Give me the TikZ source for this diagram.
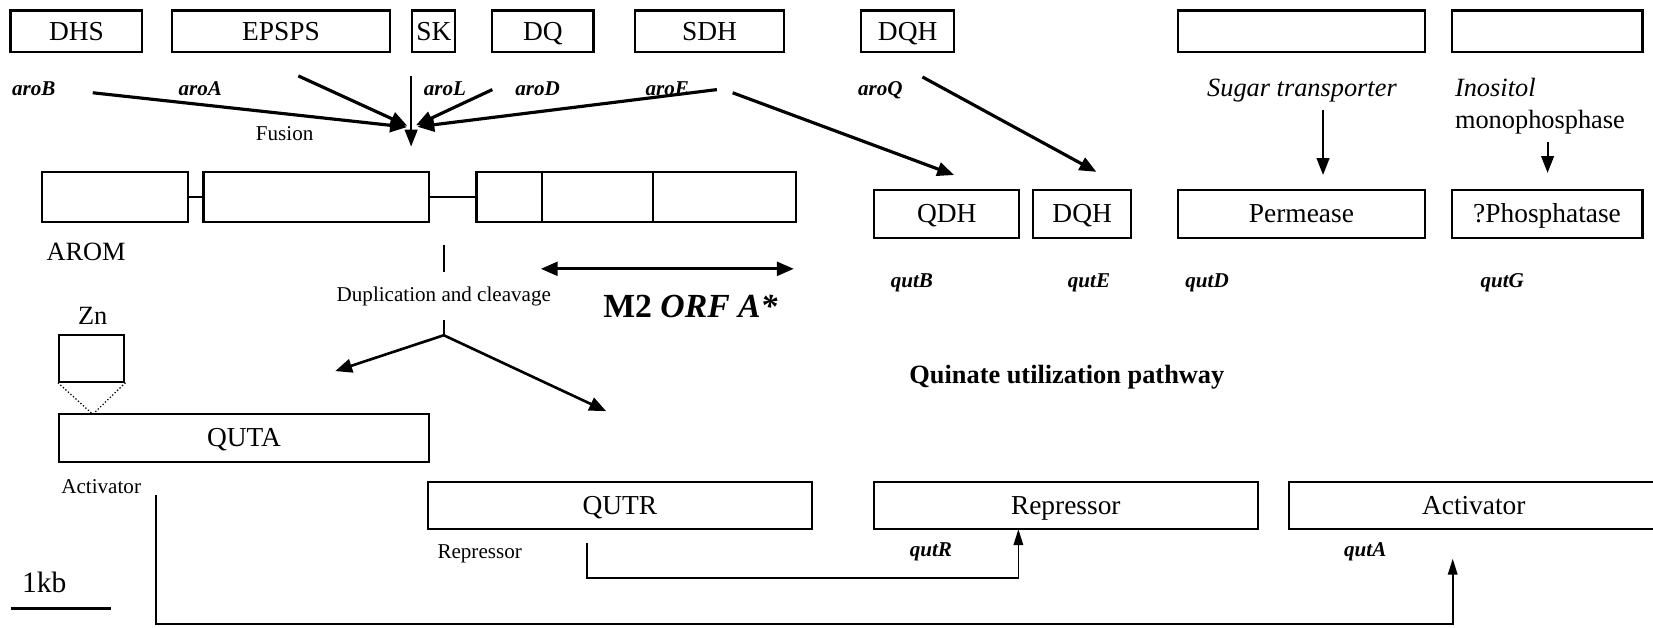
\documentclass[tikz,border=0pt]{standalone}
\usepackage{fontspec}
\setmainfont{Liberation Serif}
\usetikzlibrary{arrows.meta}

\begin{document}
\begin{tikzpicture}[
  x=1pt,y=-1pt,
  gene/.style={draw,line width=2pt,inner sep=0pt,minimum height=39pt,text height=17pt,text depth=0pt,font=\fontsize{26}{28}\selectfont},
  lbl/.style={inner sep=0pt,text height=14pt,text depth=4pt,font=\fontsize{20}{22}\selectfont\bfseries\itshape},
  note/.style={inner sep=0pt,text height=14pt,text depth=4pt,font=\fontsize{20}{22}\selectfont},
  big/.style={inner sep=0pt,text height=17.5pt,text depth=5pt,font=\fontsize{25}{28}\selectfont},
  flow/.style={-{Triangle[length=16pt,width=13pt]},line width=3pt},
  feed/.style={-{Triangle[length=16pt,width=12pt]},line width=2pt},
  link/.style={-{Triangle[length=15pt,width=9pt]},line width=1.6pt}
]
  \fill[white] (0,0) rectangle (1568,595);
  \useasboundingbox (0,0) rectangle (1568,595);

  % separate enzymes (top row)
  \node[gene,minimum width=125pt] (dhs) at (72.5,29.5) {DHS};
  \node[gene,minimum width=207pt] (epsps) at (266.5,29.5) {EPSPS};
  \node[gene,minimum width=41pt] (sk) at (411.5,29.5) {SK};
  \node[gene,minimum width=96pt] (dq) at (515,29.5) {DQ};
  \node[gene,minimum width=142pt] (sdh) at (673,29.5) {SDH};
  \node[gene,minimum width=88pt] (dqhtop) at (861,29.5) {DQH};
  \node[gene,minimum width=235pt] (sugbox) at (1234.5,29.5) {};
  \node[gene,minimum width=181pt] (inobox) at (1467.5,29.5) {};

  \node[lbl] (aroB) at (32,86) {aroB};
  \node[lbl] (aroA) at (190,86) {aroA};
  \node[lbl] (aroL) at (422,86) {aroL};
  \node[lbl] (aroD) at (510,86) {aroD};
  \node[lbl] (aroE) at (633,86) {aroE};
  \node[lbl] (aroQ) at (835,86) {aroQ};
  \node[big,font=\fontsize{25}{28}\selectfont\itshape] (sugtxt) at (1235,85) {Sugar transporter};
  \node[big,font=\fontsize{25}{28}\selectfont\itshape,anchor=west] (inotxt) at (1380,85) {Inositol};
  \node[big,anchor=west] (monotxt) at (1380,116) {monophosphase};
  \node[note] (fusion) at (270,128) {Fusion};

  % fusion into AROM
  \coordinate (fuse) at (390,121);
  \coordinate (fromB) at (88,88);
  \coordinate (fromA) at (283,72);
  \coordinate (fromL) at (467,85);
  \coordinate (fromE) at (680,85);
  \coordinate (skout) at (390,72);
  \coordinate (fusedown) at (390,139);
  \draw[flow,shorten >=4pt] (fromB) -- (fuse);
  \draw[flow,shorten >=4pt] (fromA) -- (fuse);
  \draw[flow,shorten >=5pt] (fromL) -- (fuse);
  \draw[flow,shorten >=6pt] (fromE) -- (fuse);
  \draw[feed] (skout) -- (fusedown);

  % AROM pentafunctional polypeptide
  \node[gene,minimum width=138pt,minimum height=48pt] (arom1) at (109,187) {};
  \node[gene,minimum width=214pt,minimum height=48pt] (arom2) at (300,187) {};
  \node[gene,minimum width=62pt,minimum height=48pt] (arom3a) at (483,187) {};
  \node[gene,minimum width=105pt,minimum height=48pt] (arom3b) at (566.5,187) {};
  \node[gene,minimum width=136pt,minimum height=48pt] (arom3c) at (687,187) {};
  \draw[line width=2pt] (arom1) -- (arom2);
  \draw[line width=2pt] (arom2) -- (arom3a);
  \node[big,anchor=west] (arom) at (44,241) {AROM};

  % quinate enzymes
  \node[gene,minimum width=138pt,minimum height=46pt] (qdh) at (898,203) {QDH};
  \node[gene,minimum width=93pt,minimum height=46pt] (dqh) at (1026.5,203) {DQH};
  \node[gene,minimum width=235pt,minimum height=46pt] (permease) at (1234.5,203) {Permease};
  \node[gene,minimum width=181pt,minimum height=46pt] (phos) at (1467.5,203) {?Phosphatase};
  \node[lbl] (qutB) at (865,268) {qutB};
  \node[lbl] (qutE) at (1033,268) {qutE};
  \node[lbl] (qutD) at (1145,268) {qutD};
  \node[lbl] (qutG) at (1425,268) {qutG};

  \coordinate (sdhout) at (695,88);
  \coordinate (qdhin) at (905,166);
  \coordinate (aroqout) at (875,73);
  \coordinate (dqhin) at (1040,163);
  \coordinate (sugout) at (1255,104);
  \coordinate (permin) at (1255,166);
  \coordinate (monoout) at (1468,135);
  \coordinate (phosin) at (1468,164);
  \draw[flow] (sdhout) -- (qdhin);
  \draw[flow] (aroqout) -- (dqhin);
  \draw[feed] (sugout) -- (permin);
  \draw[feed] (monoout) -- (phosin);

  % duplication and cleavage
  \coordinate (dupA) at (421,232);
  \coordinate (dupB) at (421,258);
  \coordinate (dupC) at (421,304);
  \coordinate (split) at (421,318);
  \coordinate (toquta) at (318,352);
  \coordinate (toqutr) at (575,390);
  \draw[line width=2pt] (dupA) -- (dupB);
  \draw[line width=2pt] (dupC) -- (split);
  \node[note] (dup) at (421,281) {Duplication and cleavage};
  \draw[flow,line width=2.5pt] (split) -- (toquta);
  \draw[flow,line width=2.5pt] (split) -- (toqutr);

  \coordinate (orfL) at (513,255);
  \coordinate (orfR) at (753,255);
  \draw[{Triangle[length=16pt,width=13pt]}-{Triangle[length=16pt,width=13pt]},line width=3pt] (orfL) -- (orfR);
  \node[inner sep=0pt,font=\fontsize{32}{36}\selectfont\bfseries] (orf) at (655,291) {M2 \textit{ORF A*}};

  % regulatory proteins
  \node[big] (zntxt) at (88,302) {Zn};
  \node[gene,minimum width=62pt,minimum height=44pt] (zn) at (87,340) {};
  \node[gene,minimum width=351pt,minimum height=45pt] (quta) at (231.5,415.5) {QUTA};
  \coordinate (zntip) at (88,393);
  \draw[dotted,line width=1.2pt] (zn.south west) -- (zntip) -- (zn.south east);
  \node[note] (qutaact) at (96,463) {Activator};
  \node[inner sep=0pt,font=\fontsize{25}{28}\selectfont\bfseries] (pathway) at (1012,358) {Quinate utilization pathway};

  \node[gene,minimum width=364pt,minimum height=45pt] (qutr) at (588,479.5) {QUTR};
  \node[gene,minimum width=364pt,minimum height=45pt] (repbox) at (1011,479.5) {Repressor};
  \node[gene,minimum width=350pt,minimum height=45pt] (actbox) at (1398,479.5) {Activator};
  \node[note] (qutrrep) at (455,525) {Repressor};
  \node[lbl] (qutR) at (883,523) {qutR};
  \node[lbl] (qutA) at (1295,523) {qutA};

  \coordinate (qutrout) at (557,515);
  \coordinate (rbend) at (966,548);
  \coordinate (qutrin) at (966,502);
  \draw[link] (qutrout) |- (rbend) -- (qutrin);
  \coordinate (actout) at (148,470);
  \coordinate (abend) at (1378,592);
  \coordinate (actin) at (1378,530);
  \draw[link] (actout) |- (abend) -- (actin);

  % scale bar
  \node[inner sep=0pt,font=\fontsize{28}{30}\selectfont] (kb) at (42,552) {1kb};
  \draw[line width=3pt] (10,577) -- (105,577);
\end{tikzpicture}
\end{document}
